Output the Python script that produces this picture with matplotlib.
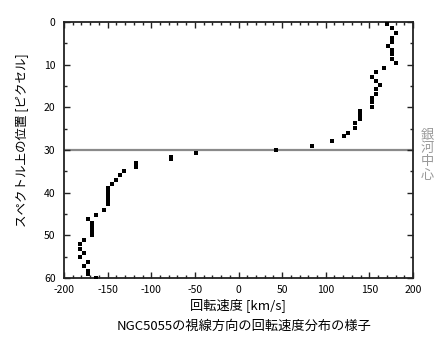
import matplotlib
matplotlib.use('Agg')
import matplotlib.pyplot as plt
from matplotlib.ticker import MultipleLocator

plt.rcParams['font.family'] = ['Noto Sans CJK JP', 'DejaVu Sans']
plt.rcParams['axes.unicode_minus'] = False

# approaching side (upper half of slit), velocity in km/s vs position in pixels
v_right = [170, 176, 180, 176, 176, 171, 176, 176, 176, 180.5, 167, 158, 153, 158, 162,
           158, 158, 153, 153, 153, 139, 139, 139, 134, 134, 125, 121, 107, 84, 43]
y_right = [0.5, 1.5, 2.5, 3.7, 4.6, 5.6, 6.6, 7.6, 8.7, 9.6, 10.7, 11.7, 12.8, 13.8, 14.8,
           15.8, 16.9, 17.9, 18.8, 19.9, 20.9, 21.8, 22.7, 23.7, 24.9, 25.9, 26.8, 27.9, 29.0, 30.0]

# receding side (lower half)
v_left = [-49, -77, -77, -117, -117, -131, -136, -140, -145, -149, -149, -149, -149, -149,
          -154, -163, -172, -168, -168, -168, -168, -177, -182, -182, -177, -182, -172,
          -177, -172, -172, -163]
y_left = [30.8, 31.7, 32.2, 33.0, 33.9, 34.9, 35.8, 37.0, 38.0, 39.0, 39.9, 40.8, 41.7, 42.6,
          44.1, 45.2, 46.2, 47.1, 48.0, 48.9, 49.9, 51.1, 52.0, 53.2, 54.2, 55.1, 56.2,
          57.3, 58.3, 59.1, 60.0]

center = 30

fig = plt.figure(figsize=(4.38, 3.38), dpi=100)
ax = fig.add_axes([64/438, 60/338, 349/438, 256/338])

ax.axhline(center, color='#8a8a8a', lw=1.6, zorder=1)
ax.plot(v_right, y_right, 's', color='black', ms=2.4, mew=0, zorder=3)
ax.plot(v_left, y_left, 's', color='black', ms=2.4, mew=0, zorder=3)

ax.set_xlim(-200, 200)
ax.set_ylim(60, 0)
ax.xaxis.set_major_locator(MultipleLocator(50))
ax.xaxis.set_minor_locator(MultipleLocator(10))
ax.yaxis.set_major_locator(MultipleLocator(10))
ax.yaxis.set_minor_locator(MultipleLocator(5))
ax.tick_params(which='both', direction='in', top=True, right=True, width=1.0, color='#222222')
ax.tick_params(which='major', length=4, labelsize=7.5)
ax.tick_params(axis='x', which='major', pad=5)
ax.tick_params(axis='y', which='major', pad=6)
ax.tick_params(which='minor', length=2)
for s in ax.spines.values():
    s.set_linewidth(1.3)
    s.set_color('#222222')

fig.text(22/438, 1 - 140/338, 'スペクトル上の位置 [ピクセル]', rotation=90,
         ha='center', va='center', fontsize=9)
fig.text(238/438, 1 - 305/338, '回転速度 [km/s]', ha='center', va='center', fontsize=9.5)
fig.text(244/438, 1 - 326/338, 'NGC5055の視線方向の回転速度分布の様子',
         ha='center', va='center', fontsize=9.5)
fig.text(427/438, 1 - 155/338, '\n'.join('銀河中心'), ha='center', va='center',
         fontsize=9.5, color='#999999', linespacing=1.05)

fig.savefig('out.png', dpi=100)
